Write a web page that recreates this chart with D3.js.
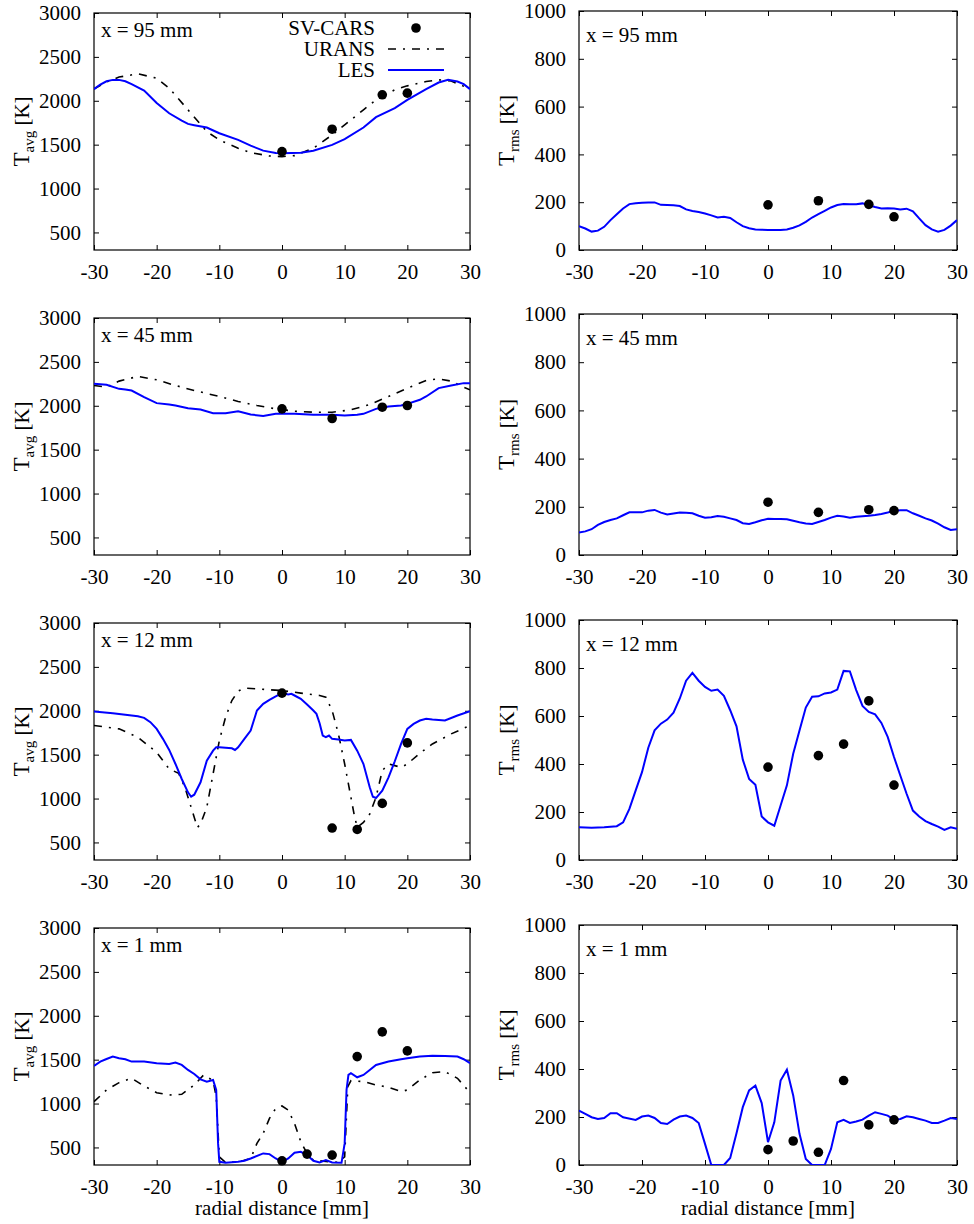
<!DOCTYPE html>
<html>
<head>
<meta charset="utf-8">
<script src="https://cdnjs.cloudflare.com/ajax/libs/d3/7.8.5/d3.min.js"></script>
<style>
  body { margin: 0; background: #fff; }
  svg { display: block; }
  svg text { font-family: 'Liberation Serif', 'Times New Roman', serif; }
</style>
</head>
<body>
<div id="chart"></div>
<script>
// tick labels and station names
const xTicks = [-30, -20, -10, 0, 10, 20, 30];
const avgTicks = [500, 1000, 1500, 2000, 2500, 3000];
const rmsTicks = [0, 200, 400, 600, 800, 1000];
const stations = ["x = 95 mm", "x = 45 mm", "x = 12 mm", "x = 1 mm"];
const seriesNames = ["SV-CARS", "URANS", "LES"];

// x = 95 mm
const les95Avg = [[-30,2133],[-29,2185],[-28,2222],[-27,2238],[-26,2238],[-25,2222],[-24,2190],[-22,2117],[-20,1975],[-18,1858],[-16,1775],[-15,1737],[-14,1722],[-12,1695],[-10,1630],[-7,1554],[-5,1489],[-3,1432],[-1,1405],[0,1402],[3,1409],[5,1430],[8,1497],[10,1562],[13,1695],[15,1813],[18,1916],[20,2011],[23,2133],[25,2208],[26.5,2239],[28,2220],[29,2190],[30,2133]];
const urans95Avg = [[-30,2135],[-28,2215],[-26,2270],[-23,2307],[-20,2258],[-18,2144],[-15,1897],[-12,1649],[-10,1554],[-7,1459],[-5,1409],[-2,1371],[0,1364],[2,1375],[5,1459],[8,1611],[10,1725],[13,1897],[15,2011],[18,2125],[20,2170],[23,2220],[25,2239],[27,2225],[30,2135]];
const cars95Avg = [[0,1421],[8,1676],[16,2068],[20,2087]];
const les95Rms = [[-30,100],[-29,90],[-28,77],[-27,81],[-26,97],[-25,125],[-24,150],[-23,174],[-22,192],[-21,196],[-20,198],[-19,199],[-18,199],[-17,189],[-16,188],[-15,187],[-14,184],[-13,170],[-12,163],[-11,159],[-10,153],[-9,145],[-8,136],[-7,139],[-6,134],[-5,116],[-4,100],[-3,91],[-2,86],[-1,85],[0,84],[1,84],[2,84],[3,86],[4,93],[5,103],[6,118],[7,136],[8,150],[9,164],[10,178],[11,188],[12,192],[13,191],[14,191],[15,195],[16,187],[17,180],[18,174],[19,175],[20,174],[21,170],[22,173],[23,162],[24,132],[25,104],[26,86],[27,77],[28,84],[29,102],[30,125]];
const cars95Rms = [[0,189],[8,206],[16,191],[20,139]];

// x = 45 mm
const les45Avg = [[-30,2250],[-28,2239],[-26,2193],[-25,2186],[-24,2174],[-22,2098],[-20,2030],[-18,2014],[-17,2003],[-15,1973],[-13,1957],[-11,1916],[-9,1916],[-7,1938],[-5,1900],[-3,1885],[-1,1908],[0,1908],[2,1908],[5,1897],[8,1897],[10,1889],[12,1897],[13,1908],[15,1965],[17,1992],[19,2003],[20,2022],[22,2068],[23,2106],[25,2201],[27,2231],[29,2258],[30,2258]];
const urans45Avg = [[-30,2231],[-28,2212],[-26,2281],[-23,2334],[-20,2296],[-17,2231],[-14,2174],[-10,2106],[-7,2049],[-4,2003],[-1,1965],[2,1938],[5,1927],[8,1927],[11,1954],[14,2014],[17,2106],[20,2201],[23,2288],[25,2307],[27,2281],[29,2212],[30,2182]];
const cars45Avg = [[0,1965],[8,1855],[16,1984],[20,2003]];
const les45Rms = [[-30,93],[-29,98],[-28,107],[-27,125],[-26,137],[-25,145],[-24,152],[-23,165],[-22,177],[-21,177],[-20,177],[-19,184],[-18,187],[-17,176],[-16,168],[-15,172],[-14,176],[-13,175],[-12,173],[-11,163],[-10,155],[-9,157],[-8,162],[-7,159],[-6,152],[-5,145],[-4,132],[-3,129],[-2,136],[-1,144],[0,150],[1,149],[2,149],[3,148],[4,142],[5,136],[6,131],[7,129],[8,137],[9,145],[10,155],[11,163],[12,160],[13,155],[14,159],[15,161],[16,163],[17,166],[18,170],[19,176],[20,183],[21,186],[22,186],[23,173],[24,163],[25,152],[26,143],[27,130],[28,115],[29,104],[30,107]];
const cars45Rms = [[0,219],[8,177],[16,188],[20,184]];

// x = 12 mm
const les12Avg = [[-30,1992],[-27,1973],[-25,1954],[-23,1938],[-22,1919],[-21,1870],[-20,1794],[-19,1680],[-18,1554],[-17,1394],[-16,1223],[-15,1071],[-14.5,1021],[-14,1044],[-13,1185],[-12,1432],[-11,1546],[-10.5,1584],[-10,1584],[-8,1573],[-7.5,1554],[-7,1584],[-6,1680],[-5,1775],[-4,2003],[-3,2079],[-2,2125],[-1,2163],[0,2201],[1,2186],[1.5,2193],[2,2174],[3,2136],[4,2071],[5,2003],[5.5,1965],[6,1858],[6.5,1718],[7,1699],[7.5,1718],[8,1680],[9,1672],[10,1661],[11,1668],[12,1546],[13,1394],[14,1128],[14.5,1021],[15,1006],[16,1090],[17,1242],[18,1425],[19,1622],[20,1794],[21,1851],[22,1889],[23,1908],[24,1900],[26,1889],[28,1946],[30,1996]];
const urans12Avg = [[-30,1832],[-26,1794],[-23,1699],[-20,1527],[-18,1337],[-16.5,1288],[-15.5,1128],[-14.5,900],[-13.5,671],[-13,709],[-12,900],[-11,1280],[-10,1661],[-9,1927],[-8,2117],[-7,2224],[-6,2258],[-4,2250],[-2,2239],[0,2231],[3,2201],[6,2174],[7,2155],[8,2003],[9,1737],[10,1394],[11,1014],[11.5,823],[12,671],[13,728],[14,823],[15,1014],[16,1318],[17,1394],[18,1375],[19,1356],[20,1394],[22,1516],[24,1622],[27,1737],[30,1832]];
const cars12Avg = [[0,2201],[8,664],[12,648],[16,945],[20,1634]];
const les12Rms = [[-30,136],[-28,134],[-26,136],[-24,141],[-23,157],[-22,213],[-21,290],[-20,366],[-19,468],[-18,540],[-17,568],[-16,585],[-15,614],[-14,673],[-13,747],[-12,780],[-11,747],[-10,721],[-9,705],[-8,710],[-7,684],[-6,624],[-5,557],[-4,418],[-3,338],[-2,313],[-1,181],[0,157],[1,143],[2,227],[3,311],[4,443],[5,540],[6,635],[7,680],[8,682],[9,694],[10,698],[11,710],[12,788],[13,786],[14,708],[15,642],[16,617],[17,607],[18,571],[19,513],[20,429],[21,352],[22,276],[23,206],[24,181],[25,162],[26,150],[27,139],[28,125],[29,136],[30,130]];
const cars12Rms = [[0,387],[8,435],[12,483],[16,663],[20,312]];

// x = 1 mm
const les1Avg = [[-30,1428],[-29,1478],[-28,1508],[-27,1535],[-26,1516],[-25,1505],[-24,1478],[-22,1478],[-20,1459],[-18,1451],[-17,1467],[-16,1440],[-15,1383],[-14,1337],[-13,1276],[-12,1250],[-11,1269],[-10.5,1155],[-10.2,546],[-10,336],[-9,325],[-7,336],[-6,348],[-5,374],[-3,432],[-2,424],[-1,374],[0,336],[1,374],[2,439],[3,451],[4,413],[5,348],[6,329],[7,355],[8,329],[9.5,325],[10,546],[10.3,1155],[10.6,1326],[11,1345],[12,1299],[13,1326],[14,1383],[15,1440],[17,1478],[19,1505],[20,1516],[22,1535],[24,1546],[26,1543],[28,1535],[29,1505],[30,1459]];
const urans1Avg = [[-30,1021],[-28,1155],[-26,1238],[-24,1288],[-22,1200],[-20,1124],[-18,1097],[-16,1105],[-14,1212],[-12.5,1326],[-11,1261],[-10.5,1078],[-10,393],[-9,330],[-7,335],[-5,374],[-4,546],[-3,660],[-2,831],[-1,945],[0,972],[1,926],[2,774],[3,565],[4,432],[5,355],[7,340],[9,330],[10,393],[10.5,1193],[11,1261],[13,1250],[15,1212],[17,1185],[19,1136],[20,1155],[22,1269],[24,1352],[26,1364],[28,1288],[30,1124]];
const cars1Avg = [[0,348],[4,424],[8,413],[12,1535],[16,1817],[20,1600]];
const les1Rms = [[-30,227],[-29,213],[-28,199],[-27,192],[-26,196],[-25,216],[-24,216],[-23,199],[-21,188],[-20,202],[-19,206],[-18,196],[-17,175],[-16,171],[-15,189],[-14,202],[-13,206],[-12,196],[-11,175],[-10,88],[-9,0],[-8,0],[-7,0],[-6,29],[-5,132],[-4,241],[-3,311],[-2,331],[-1,258],[0,95],[1,178],[2,352],[3,397],[4,290],[5,130],[6,25],[7,0],[8,0],[9,0],[10,67],[11,178],[12,188],[13,175],[14,181],[15,189],[16,206],[17,220],[18,213],[19,206],[20,189],[21,192],[22,203],[23,199],[24,192],[25,185],[26,175],[27,175],[28,185],[29,196],[30,192]];
const cars1Rms = [[0,64],[4,100],[8,53],[12,352],[16,167],[20,188]];

const rows = [
  { label: stations[0], avg: [les95Avg, urans95Avg, cars95Avg], rms: [les95Rms, null, cars95Rms] },
  { label: stations[1], avg: [les45Avg, urans45Avg, cars45Avg], rms: [les45Rms, null, cars45Rms] },
  { label: stations[2], avg: [les12Avg, urans12Avg, cars12Avg], rms: [les12Rms, null, cars12Rms] },
  { label: stations[3], avg: [les1Avg, urans1Avg, cars1Avg], rms: [les1Rms, null, cars1Rms] }
];

const width = 974, height = 1224;
const font = "'Liberation Serif', 'Times New Roman', serif";
const fontSize = 21;
const lesColor = "#0000ff";
const dashDot = "8,7,2,7";

const columns = [
  { key: "avg", x0: 94, x1: 470, tops: [13, 318, 623, 928], labelDy: 24, domain: [300, 3000], ticks: avgTicks, sub: "avg" },
  { key: "rms", x0: 579, x1: 957, tops: [11, 314, 620, 925], labelDy: 31, domain: [0, 1000], ticks: rmsTicks, sub: "rms" }
];
const bottoms = [250, 555, 860, 1165];

const svg = d3.select("#chart").append("svg")
  .attr("width", width)
  .attr("height", height)
  .attr("viewBox", `0 0 ${width} ${height}`)
  .style("font-family", font);

svg.append("rect").attr("width", width).attr("height", height).attr("fill", "#fff");

// plain hyphen for negatives, like the original
const plainNum = d => String(d);

rows.forEach((row, ri) => {
  columns.forEach((col, ci) => {
    const top = col.tops[ri], bottom = bottoms[ri];
    const x = d3.scaleLinear().domain([-30, 30]).range([col.x0, col.x1]);
    const y = d3.scaleLinear().domain(col.domain).range([bottom, top]);
    const g = svg.append("g");

    const clipId = `clip${ri}${ci}`;
    g.append("clipPath").attr("id", clipId)
      .append("rect")
      .attr("x", col.x0).attr("y", top)
      .attr("width", col.x1 - col.x0).attr("height", bottom - top);

    // axes, ticks pointing inward
    const styleAxis = sel => {
      sel.attr("font-family", null);
      sel.select(".domain").remove();
      sel.selectAll("line").attr("stroke", "#000").attr("stroke-width", 1);
      sel.selectAll("text").attr("fill", "#000").style("font-family", font).style("font-size", fontSize + "px");
    };
    g.append("g").attr("transform", `translate(0,${bottom})`)
      .call(d3.axisBottom(x).tickValues(xTicks).tickSizeInner(-5).tickSizeOuter(0).tickPadding(14).tickFormat(plainNum))
      .call(styleAxis);
    g.append("g").attr("transform", `translate(0,${top})`)
      .call(d3.axisTop(x).tickValues(xTicks).tickSizeInner(-5).tickSizeOuter(0).tickFormat(""))
      .call(styleAxis);
    g.append("g").attr("transform", `translate(${col.x0},0)`)
      .call(d3.axisLeft(y).tickValues(col.ticks).tickSizeInner(-5).tickSizeOuter(0).tickPadding(13).tickFormat(plainNum))
      .call(styleAxis);
    g.append("g").attr("transform", `translate(${col.x1},0)`)
      .call(d3.axisRight(y).tickValues(col.ticks).tickSizeInner(-5).tickSizeOuter(0).tickFormat(""))
      .call(styleAxis);

    g.append("rect")
      .attr("x", col.x0).attr("y", top)
      .attr("width", col.x1 - col.x0).attr("height", bottom - top)
      .attr("fill", "none").attr("stroke", "#000").attr("stroke-width", 1.2);

    const line = d3.line().x(d => x(d[0])).y(d => y(d[1]));
    const [les, urans, cars] = row[col.key];
    const plot = g.append("g").attr("clip-path", `url(#${clipId})`);

    if (urans) {
      plot.append("path").datum(urans)
        .attr("d", line).attr("fill", "none")
        .attr("stroke", "#000").attr("stroke-width", 1.6)
        .attr("stroke-dasharray", dashDot);
    }
    plot.append("path").datum(les)
      .attr("d", line).attr("fill", "none")
      .attr("stroke", lesColor).attr("stroke-width", 2);

    g.selectAll(".cars").data(cars).enter().append("circle")
      .attr("cx", d => x(d[0])).attr("cy", d => y(d[1]))
      .attr("r", 4.8).attr("fill", "#000");

    // station label
    g.append("text")
      .attr("x", col.x0 + 7).attr("y", top + col.labelDy)
      .attr("font-size", fontSize)
      .text(row.label);

    // y axis title
    const yt = g.append("text")
      .attr("text-anchor", "middle")
      .attr("font-size", fontSize)
      .attr("transform", `translate(${col.x0 - 65},${(top + bottom) / 2}) rotate(-90)`);
    yt.append("tspan").attr("font-size", 23).text("T");
    yt.append("tspan").attr("font-size", 15).attr("dy", 5).text(col.sub);
    yt.append("tspan").attr("dy", -5).text(" [K]");

    // x axis title on the last row
    if (ri === rows.length - 1) {
      g.append("text")
        .attr("x", (col.x0 + col.x1) / 2).attr("y", bottom + 50)
        .attr("text-anchor", "middle")
        .attr("font-size", fontSize)
        .text("radial distance [mm]");
    }

    // legend in the first panel
    if (ri === 0 && ci === 0) {
      const lg = g.append("g");
      const lx = 375, l0 = 388, l1 = 444;
      seriesNames.forEach((name, i) => {
        const by = top + 22 + i * 21;
        lg.append("text").attr("x", lx).attr("y", by)
          .attr("text-anchor", "end")
          .attr("font-size", fontSize)
          .text(name);
        const my = by - 7;
        if (i === 0) {
          lg.append("circle").attr("cx", (l0 + l1) / 2).attr("cy", my).attr("r", 4.8).attr("fill", "#000");
        } else if (i === 1) {
          lg.append("line").attr("x1", l0).attr("x2", l1).attr("y1", my).attr("y2", my)
            .attr("stroke", "#000").attr("stroke-width", 1.6).attr("stroke-dasharray", dashDot);
        } else {
          lg.append("line").attr("x1", l0).attr("x2", l1).attr("y1", my).attr("y2", my)
            .attr("stroke", lesColor).attr("stroke-width", 2);
        }
      });
    }
  });
});
</script>
</body>
</html>
